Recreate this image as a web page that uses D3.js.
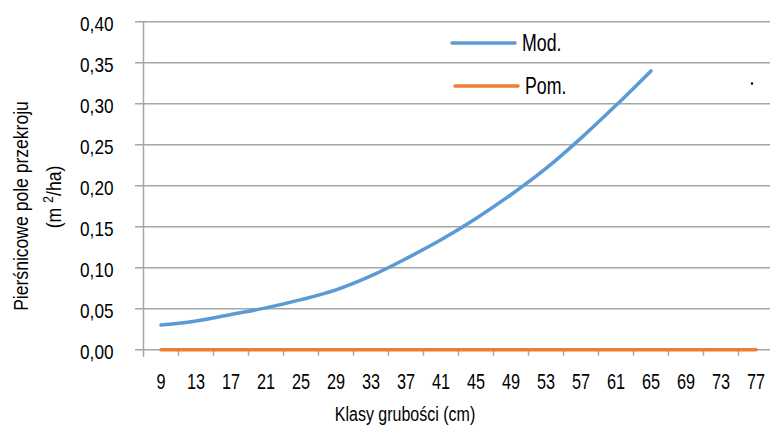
<!DOCTYPE html>
<html>
<head>
<meta charset="utf-8">
<script src="https://cdn.jsdelivr.net/npm/d3@7"></script>
<style>
  body { margin: 0; background: #fff; }
  svg text { font-family: "Liberation Sans", Arial, sans-serif; fill: #000; }
</style>
</head>
<body>
<div id="chart"></div>
<script>
// classes of thickness (cm)
var classes = [9, 13, 17, 21, 25, 29, 33, 37, 41, 45, 49, 53, 57, 61, 65, 69, 73, 77];
// modelled basal area (m2/ha), only up to 65 cm
var modValues = [0.030, 0.035, 0.043, 0.051, 0.061, 0.073, 0.090, 0.111, 0.134, 0.160, 0.189, 0.221, 0.258, 0.298, 0.340];
// measured basal area, all zero
var pomValues = [0, 0, 0, 0, 0, 0, 0, 0, 0, 0, 0, 0, 0, 0, 0, 0, 0, 0];
var yTicks = [0, 0.05, 0.10, 0.15, 0.20, 0.25, 0.30, 0.35, 0.40];

var width = 770, height = 426;

var svg = d3.select("#chart")
            .append("svg")
            .attr("width", width)
            .attr("height", height);

var x = d3.scaleBand()
          .domain(classes)
          .range([143.5, 143.5 + 35 * classes.length])
          .padding(0);

var y = d3.scaleLinear()
          .domain([0, 0.4])
          .range([349.7, 21.7]);

var fmt = function(v) { return d3.format(".2f")(v).replace(".", ","); };

// the original font is a condensed one, so squeeze text sideways
function squeeze(k) {
    return function(px, py) { return "translate(" + px + "," + py + ") scale(" + k + ",1)"; };
}

// gridlines
svg.append("g")
   .selectAll("line")
   .data(yTicks)
   .enter().append("line")
   .attr("x1", 135)
   .attr("x2", width)
   .attr("y1", function(d) { return y(d); })
   .attr("y2", function(d) { return y(d); })
   .attr("stroke", "#a6a6a6")
   .attr("stroke-width", 1.5);

// y axis line
svg.append("line")
   .attr("x1", x.range()[0]).attr("x2", x.range()[0])
   .attr("y1", y(0.4)).attr("y2", y(0) + 7)
   .attr("stroke", "#a6a6a6")
   .attr("stroke-width", 1.5);

// x tick marks between categories
svg.append("g")
   .selectAll("line")
   .data(classes.slice(1))
   .enter().append("line")
   .attr("x1", function(d) { return x(d); })
   .attr("x2", function(d) { return x(d); })
   .attr("y1", y(0))
   .attr("y2", y(0) + 6)
   .attr("stroke", "#a6a6a6")
   .attr("stroke-width", 1.5);

// y tick labels
var yq = squeeze(0.86);
svg.append("g")
   .selectAll("text")
   .data(yTicks)
   .enter().append("text")
   .attr("transform", function(d) { return yq(113.5, y(d) + 9.5); })
   .attr("text-anchor", "end")
   .style("font-size", "20px")
   .text(fmt);

// x tick labels
var xq = squeeze(0.74);
svg.append("g")
   .selectAll("text")
   .data(classes)
   .enter().append("text")
   .attr("transform", function(d) { return xq(x(d) + x.bandwidth() / 2, 388.5); })
   .attr("text-anchor", "middle")
   .style("font-size", "22px")
   .text(function(d) { return d; });

// axis titles
svg.append("text")
   .attr("transform", squeeze(0.8)(405, 421))
   .attr("text-anchor", "middle")
   .style("font-size", "20px")
   .text("Klasy grubości (cm)");

svg.append("text")
   .attr("transform", "translate(28,206) rotate(-90) scale(0.9,1)")
   .attr("text-anchor", "middle")
   .style("font-size", "19.5px")
   .text("Pierśnicowe pole przekroju");

var unit = svg.append("text")
   .attr("transform", "translate(61,197) rotate(-90) scale(0.9,1)")
   .attr("text-anchor", "middle")
   .style("font-size", "19.5px");
unit.append("tspan").text("(m ");
unit.append("tspan").attr("dy", -8).style("font-size", "14px").text("2");
unit.append("tspan").attr("dy", 8).text("/ha)");

// lines
var line = d3.line()
             .x(function(d, i) { return x(classes[i]) + x.bandwidth() / 2; })
             .y(function(d) { return y(d); })
             .curve(d3.curveMonotoneX);

svg.append("path")
   .datum(pomValues)
   .attr("d", line)
   .attr("fill", "none")
   .attr("stroke", "#ed7d31")
   .attr("stroke-width", 3.5)
   .attr("stroke-linecap", "round");

svg.append("path")
   .datum(modValues)
   .attr("d", line)
   .attr("fill", "none")
   .attr("stroke", "#5b9bd5")
   .attr("stroke-width", 3.5)
   .attr("stroke-linecap", "round");

// legend
var legend = [
  { name: "Mod.", color: "#5b9bd5", y: 43, x: 452 },
  { name: "Pom.", color: "#ed7d31", y: 86, x: 455 }
];
var lq = squeeze(0.74);
var lg = svg.append("g")
            .selectAll("g")
            .data(legend)
            .enter().append("g");
lg.append("line")
  .attr("x1", function(d) { return d.x; })
  .attr("x2", function(d) { return d.x + 63; })
  .attr("y1", function(d) { return d.y; })
  .attr("y2", function(d) { return d.y; })
  .attr("stroke", function(d) { return d.color; })
  .attr("stroke-width", 3.5)
  .attr("stroke-linecap", "round");
lg.append("text")
  .attr("transform", function(d) { return lq(d.x + 70, d.y + 7.5); })
  .style("font-size", "24px")
  .text(function(d) { return d.name; });

// stray dot right of legend
svg.append("circle")
   .attr("cx", 752)
   .attr("cy", 83.5)
   .attr("r", 1.2)
   .attr("fill", "#000");
</script>
</body>
</html>
